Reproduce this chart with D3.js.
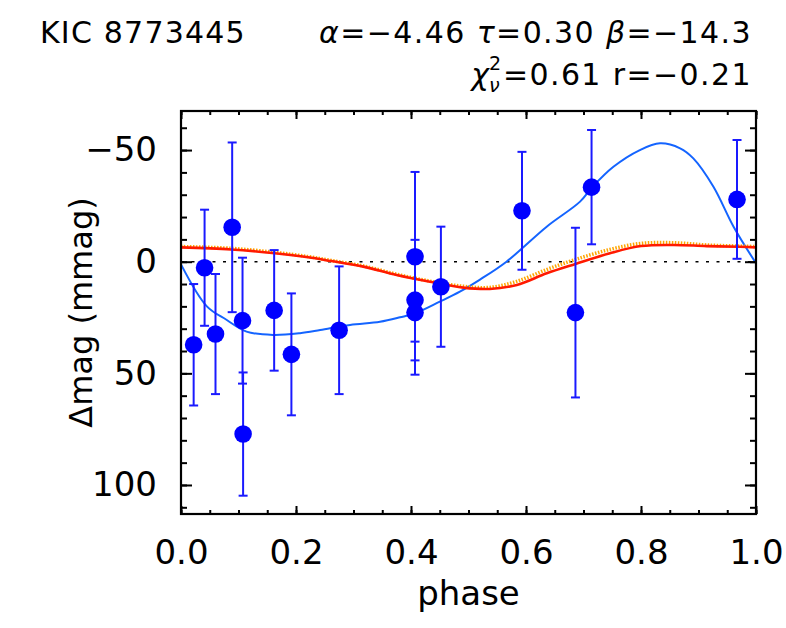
<!DOCTYPE html>
<html>
<head>
<meta charset="utf-8">
<script src="https://cdn.jsdelivr.net/npm/d3@7"></script>
<style>
  html, body { margin: 0; padding: 0; background: #fff; }
  svg { display: block; font-family: "DejaVu Sans", sans-serif; }
</style>
</head>
<body>
<div id="chart"></div>
<script>
// observed points: phase, delta mag (mmag), error
const phases = [0.022, 0.041, 0.060, 0.089, 0.107, 0.108, 0.162, 0.192, 0.275, 0.407, 0.407, 0.407, 0.452, 0.593, 0.686, 0.714, 0.967];
const mags   = [37.2, 2.7, 32.4, -15.4, 26.4, 77.2, 21.8, 41.5, 30.7, -2.2, 17.2, 22.8, 11.2, -22.8, 22.8, -33.4, -27.9];
const errs   = [27.2, 26.0, 26.9, 38.0, 28.2, 27.6, 27.0, 27.3, 28.6, 38.0, 27.0, 27.8, 26.9, 26.4, 38.0, 25.6, 26.6];

// blue model curve
const bluePhase = [0.000, 0.045, 0.079, 0.114, 0.160, 0.207, 0.242, 0.294, 0.346, 0.381, 0.407, 0.450, 0.485, 0.520, 0.566, 0.636, 0.694, 0.716, 0.752, 0.798, 0.833, 0.868, 0.891, 0.926, 0.961, 1.000];
const blueMag   = [1.2, 20.0, 26.0, 31.3, 32.8, 32.0, 30.6, 28.3, 26.9, 24.9, 23.1, 17.9, 13.4, 8.0, 0.0, -15.7, -26.9, -33.6, -42.5, -50.0, -53.0, -50.8, -46.3, -33.6, -15.7, 0.7];

// red model curve and orange dotted one
const redPhase  = [0.000, 0.087, 0.163, 0.221, 0.261, 0.317, 0.375, 0.433, 0.491, 0.537, 0.584, 0.636, 0.686, 0.746, 0.800, 0.857, 0.914, 0.972, 1.000];
const redMag    = [-6.4, -5.5, -3.8, -2.0, -0.3, 2.2, 6.0, 9.0, 11.6, 12.2, 10.4, 5.2, 1.0, -3.8, -7.0, -7.5, -7.0, -6.7, -6.4];
const orangeMag = [-6.8, -6.0, -4.2, -2.3, -0.6, 1.9, 5.6, 8.7, 11.0, 11.5, 8.8, 3.5, -1.0, -5.5, -8.2, -8.5, -7.5, -7.0, -6.8];

const xTicks = [0, 0.2, 0.4, 0.6, 0.8, 1.0];
const yTicks = [-50, 0, 50, 100];

const W = 786, H = 628;
const margin = { left: 181, right: 756, top: 111, bottom: 514 };

const svg = d3.select("#chart").append("svg")
    .attr("width", W)
    .attr("height", H);

const x = d3.scaleLinear().domain([0, 1]).range([margin.left, margin.right]);
const y = d3.scaleLinear().domain([-67.5, 113]).range([margin.top, margin.bottom]);

// zero line
svg.append("line")
    .attr("x1", x(0)).attr("x2", x(1))
    .attr("y1", y(0)).attr("y2", y(0))
    .attr("stroke", "#000")
    .attr("stroke-width", 1.6)
    .attr("stroke-dasharray", "3,7.5");

const line = d3.line().curve(d3.curveCatmullRom.alpha(0.5));

// blue curve
svg.append("path")
    .attr("d", line(bluePhase.map((p, i) => [x(p), y(blueMag[i])])))
    .attr("fill", "none")
    .attr("stroke", "#1464ff")
    .attr("stroke-width", 2);

// orange dotted then red on top
svg.append("path")
    .attr("d", line(redPhase.map((p, i) => [x(p), y(orangeMag[i])])))
    .attr("fill", "none")
    .attr("stroke", "#ffa500")
    .attr("stroke-width", 3.5)
    .attr("stroke-dasharray", "1.5,1.5");

svg.append("path")
    .attr("d", line(redPhase.map((p, i) => [x(p), y(redMag[i])])))
    .attr("fill", "none")
    .attr("stroke", "#ff1a00")
    .attr("stroke-width", 2.6);

// error bars
const pts = phases.map((p, i) => ({ p: p, m: mags[i], e: errs[i] }));
const eb = svg.append("g")
    .attr("stroke", "#1a1aff")
    .attr("stroke-width", 2);

eb.selectAll(".bar").data(pts).enter().append("line")
    .attr("x1", d => x(d.p)).attr("x2", d => x(d.p))
    .attr("y1", d => y(d.m - d.e)).attr("y2", d => y(d.m + d.e));
eb.selectAll(".capTop").data(pts).enter().append("line")
    .attr("x1", d => x(d.p) - 4.5).attr("x2", d => x(d.p) + 4.5)
    .attr("y1", d => y(d.m - d.e)).attr("y2", d => y(d.m - d.e));
eb.selectAll(".capBot").data(pts).enter().append("line")
    .attr("x1", d => x(d.p) - 4.5).attr("x2", d => x(d.p) + 4.5)
    .attr("y1", d => y(d.m + d.e)).attr("y2", d => y(d.m + d.e));

// dots
svg.selectAll(".dot").data(pts).enter().append("circle")
    .attr("cx", d => x(d.p))
    .attr("cy", d => y(d.m))
    .attr("r", 8.8)
    .attr("fill", "#0000ff");

// axes: ticks point inward on all four sides
function styleAxis(g) {
    g.select(".domain").remove();
    g.selectAll(".tick line").attr("stroke", "#000").attr("stroke-width", 2);
    g.selectAll("text")
        .attr("fill", "#000")
        .attr("font-size", 34)
        .attr("font-family", "DejaVu Sans, sans-serif");
}

const xMinor = d3.range(0, 1.0001, 0.05);
const yMinor = d3.range(-60, 111, 10);

svg.append("g").attr("transform", `translate(0,${margin.bottom})`)
    .call(d3.axisBottom(x).tickValues(xMinor).tickSize(-4).tickFormat(""))
    .call(styleAxis);
svg.append("g").attr("transform", `translate(0,${margin.bottom})`)
    .call(d3.axisBottom(x).tickValues(xTicks).tickSize(-8).tickPadding(26).tickFormat(d3.format(".1f")))
    .call(styleAxis);
svg.append("g").attr("transform", `translate(0,${margin.top})`)
    .call(d3.axisTop(x).tickValues(xMinor).tickSize(-4).tickFormat(""))
    .call(styleAxis);
svg.append("g").attr("transform", `translate(0,${margin.top})`)
    .call(d3.axisTop(x).tickValues(xTicks).tickSize(-8).tickFormat(""))
    .call(styleAxis);

svg.append("g").attr("transform", `translate(${margin.left},0)`)
    .call(d3.axisLeft(y).tickValues(yMinor).tickSize(-6).tickFormat(""))
    .call(styleAxis);
svg.append("g").attr("transform", `translate(${margin.left},0)`)
    .call(d3.axisLeft(y).tickValues(yTicks).tickSize(-11).tickPadding(24))
    .call(styleAxis);
svg.append("g").attr("transform", `translate(${margin.right},0)`)
    .call(d3.axisRight(y).tickValues(yMinor).tickSize(-6).tickFormat(""))
    .call(styleAxis);
svg.append("g").attr("transform", `translate(${margin.right},0)`)
    .call(d3.axisRight(y).tickValues(yTicks).tickSize(-11).tickFormat(""))
    .call(styleAxis);

// frame
svg.append("rect")
    .attr("x", margin.left).attr("y", margin.top)
    .attr("width", margin.right - margin.left).attr("height", margin.bottom - margin.top)
    .attr("fill", "none")
    .attr("stroke", "#000")
    .attr("stroke-width", 2.2);

// axis titles
svg.append("text")
    .attr("x", (margin.left + margin.right) / 2)
    .attr("y", 605)
    .attr("text-anchor", "middle")
    .attr("font-size", 34)
    .text("phase");

svg.append("text")
    .attr("transform", `translate(92,${(margin.top + margin.bottom) / 2}) rotate(-90)`)
    .attr("text-anchor", "middle")
    .attr("font-size", 32)
    .text("Δmag (mmag)");

// header
svg.append("text")
    .attr("x", 40).attr("y", 43)
    .attr("font-size", 30)
    .attr("letter-spacing", 1.2)
    .text("KIC 8773445");

const hdr = svg.append("text")
    .attr("x", 752).attr("y", 43)
    .attr("text-anchor", "end")
    .attr("font-size", 30)
    .attr("letter-spacing", 1.4);
hdr.append("tspan").attr("font-style", "italic").text("α");
hdr.append("tspan").text("=−4.46 ");
hdr.append("tspan").attr("font-style", "italic").text("τ");
hdr.append("tspan").text("=0.30 ");
hdr.append("tspan").attr("font-style", "italic").text("β");
hdr.append("tspan").text("=−14.3");

const line2 = svg.append("text")
    .attr("x", 752).attr("y", 85)
    .attr("text-anchor", "end")
    .attr("font-size", 30)
    .attr("letter-spacing", 1.4)
    .text("=0.61 r=−0.21");
const x0 = line2.node().getBBox().x;
svg.append("text")
    .attr("x", x0 - 14).attr("y", 85)
    .attr("text-anchor", "end")
    .attr("font-size", 30)
    .attr("font-style", "italic")
    .text("χ");
svg.append("text")
    .attr("x", x0 - 14).attr("y", 70)
    .attr("font-size", 19)
    .text("2");
svg.append("text")
    .attr("x", x0 - 14).attr("y", 92)
    .attr("font-size", 19)
    .attr("font-style", "italic")
    .text("ν");
</script>
</body>
</html>
